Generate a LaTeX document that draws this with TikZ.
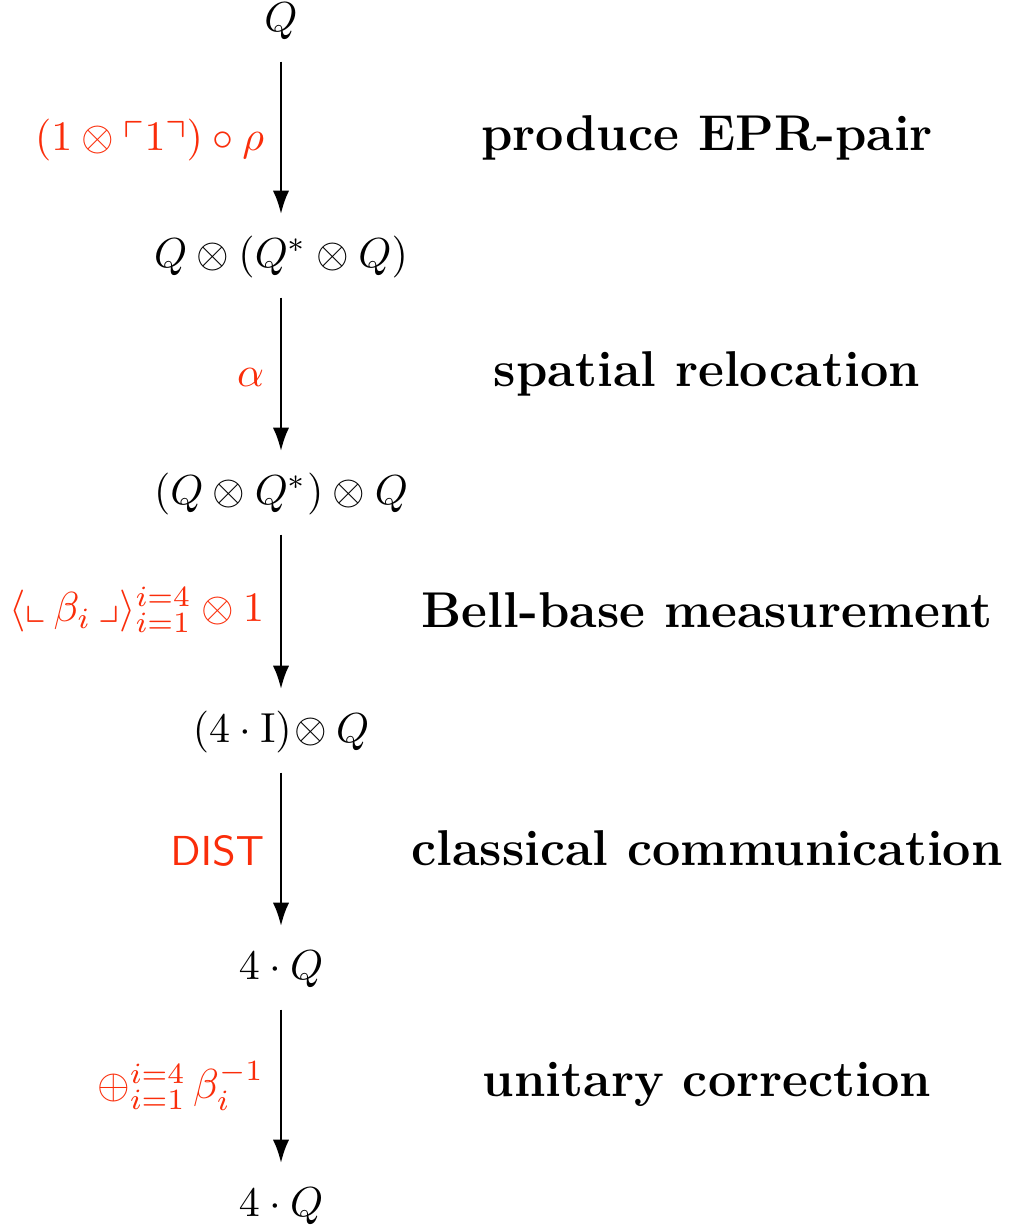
\documentclass[tikz,border=0pt]{standalone}
\usepackage{amssymb}
\usetikzlibrary{arrows.meta}
\definecolor{lblred}{RGB}{250,45,10}
\tikzset{
  obj/.style={inner sep=0pt, text height=7pt, text depth=2.5pt, anchor=center},
  mor/.style={draw, line width=0.7pt, -{Latex[length=5.6pt,width=3.9pt]}, shorten <=4.5pt, shorten >=5.5pt},
  maplbl/.style={text=lblred, anchor=east, inner sep=0pt},
  steplbl/.style={font=\large\bfseries, anchor=center, inner sep=0pt}
}
\begin{document}
\begin{tikzpicture}[x=0.2385pt, y=-0.2385pt]
\useasboundingbox (0,0) rectangle (1010,1227);
\node[obj] (n0) at (281,22) {$Q$};
\node[obj] (n1) at (281,258) {$Q\otimes(Q^{*}\otimes Q)$};
\node[obj] (n2) at (281,495) {$(Q\otimes Q^{*})\otimes Q$};
\node[obj] (n3) at (281,733) {$(4\cdot\mathrm{I})\!\otimes Q$};
\node[obj] (n4) at (281,970) {$4\cdot Q$};
\node[obj] (n5) at (281,1207) {$4\cdot Q$};
\draw[mor] (n0) -- (n1);
\draw[mor] (n1) -- (n2);
\draw[mor] (n2) -- (n3);
\draw[mor] (n3) -- (n4);
\draw[mor] (n4) -- (n5);
\node[maplbl] (l1) at (265,140) {$(1\otimes\ulcorner 1\urcorner)\circ\rho$};
\node[maplbl] (l2) at (265,377) {$\alpha$};
\node[maplbl] (l3) at (265,610) {$\langle\llcorner\,\beta_i\,\lrcorner\rangle_{i=1}^{i=4}\otimes 1$};
\node[maplbl] (l4) at (265,851) {$\mathsf{DIST}$};
\node[maplbl] (l5) at (265,1086) {${\oplus}_{i=1}^{i=4}\,\beta_i^{-1}$};
\node[steplbl] (s1) at (707,138) {produce EPR-pair};
\node[steplbl] (s2) at (707,374) {spatial relocation};
\node[steplbl] (s3) at (707,610) {Bell-base measurement};
\node[steplbl] (s4) at (707,848) {classical communication};
\node[steplbl] (s5) at (707,1084) {unitary correction};
\end{tikzpicture}
\end{document}
